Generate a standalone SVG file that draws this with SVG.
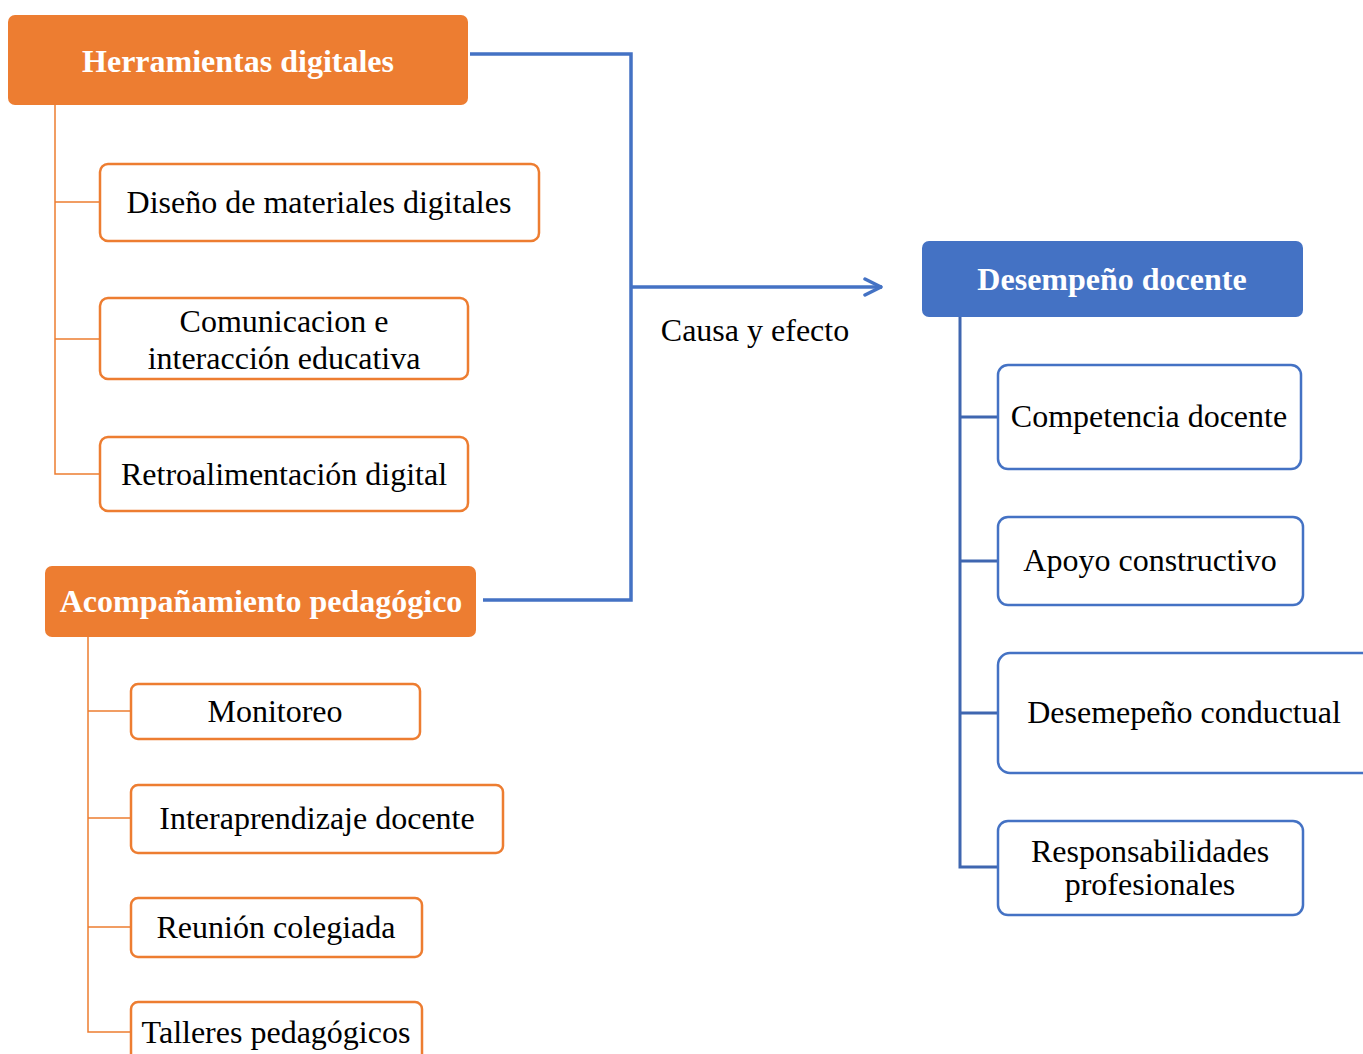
<svg xmlns="http://www.w3.org/2000/svg" width="1363" height="1054" viewBox="0 0 1363 1054">
<defs>
<style>
.hdr{fill:#ED7D31;}
.hdrb{fill:#4472C4;}
.ob{fill:#fff;stroke:#ED7D31;stroke-width:2.5;}
.bb{fill:#fff;stroke:#4472C4;stroke-width:2.5;}
.ht{font-family:"Liberation Serif",serif;font-weight:bold;font-size:32px;fill:#fff;text-anchor:middle;}
.t{font-family:"Liberation Serif",serif;font-size:32px;fill:#000;text-anchor:middle;}
.ol{fill:none;stroke:#ED7D31;stroke-width:1.5;}
.bl{fill:none;stroke:#3F66B0;stroke-width:3;}
.main{fill:none;stroke:#4472C4;stroke-width:3.5;}
</style>
<marker id="chev" viewBox="0 0 20 20" refX="19" refY="10" markerWidth="20" markerHeight="20" markerUnits="userSpaceOnUse" orient="auto">
<path d="M2,2 L18,10 L2,18" fill="none" stroke="#4472C4" stroke-width="3.5" stroke-linecap="round" stroke-linejoin="round"/>
</marker>
</defs>
<rect width="1363" height="1054" fill="#fff"/>
<g id="connectors">
<path class="ol" d="M55,105 V474 H100 M55,202 H100 M55,339 H100"/>
<path class="ol" d="M88,637 V1032 H131 M88,711 H131 M88,818 H131 M88,927 H131"/>
<path class="bl" d="M960,317 V867 H998 M960,417 H998 M960,561 H998 M960,713 H998"/>
<path class="main" d="M470,54 H631 V600 H483"/>
<path class="main" d="M631,287 H882" marker-end="url(#chev)"/>
<text class="t" x="755" y="341">Causa y efecto</text>
</g>
<g id="herramientas"><rect class="hdr" x="8" y="15" width="460" height="90" rx="7"/><text class="ht" x="238" y="72">Herramientas digitales</text></g>
<g id="diseno"><rect class="ob" x="100" y="164" width="439" height="77" rx="8"/><text class="t" x="319" y="213">Diseño de materiales digitales</text></g>
<g id="comunicacion"><rect class="ob" x="100" y="298" width="368" height="81" rx="8"/><text class="t" x="284" y="332">Comunicacion e</text><text class="t" x="284" y="369">interacción educativa</text></g>
<g id="retro"><rect class="ob" x="100" y="437" width="368" height="74" rx="8"/><text class="t" x="284" y="485">Retroalimentación digital</text></g>
<g id="acompanamiento"><rect class="hdr" x="45" y="566" width="431" height="71" rx="7"/><text class="ht" x="261" y="612">Acompañamiento pedagógico</text></g>
<g id="monitoreo"><rect class="ob" x="131" y="684" width="289" height="55" rx="7"/><text class="t" x="275" y="722">Monitoreo</text></g>
<g id="interaprendizaje"><rect class="ob" x="131" y="785" width="372" height="68" rx="7"/><text class="t" x="317" y="829">Interaprendizaje docente</text></g>
<g id="reunion"><rect class="ob" x="131" y="898" width="291" height="59" rx="7"/><text class="t" x="276" y="938">Reunión colegiada</text></g>
<g id="talleres"><rect class="ob" x="131" y="1002" width="291" height="70" rx="7"/><text class="t" x="276" y="1043">Talleres pedagógicos</text></g>
<g id="desempeno"><rect class="hdrb" x="922" y="241" width="381" height="76" rx="7"/><text class="ht" x="1112" y="290">Desempeño docente</text></g>
<g id="competencia"><rect class="bb" x="998" y="365" width="303" height="104" rx="10"/><text class="t" x="1149" y="427">Competencia docente</text></g>
<g id="apoyo"><rect class="bb" x="998" y="517" width="305" height="88" rx="10"/><text class="t" x="1150" y="571">Apoyo constructivo</text></g>
<g id="conductual"><rect class="bb" x="998" y="653" width="380" height="120" rx="12"/><text class="t" x="1184" y="723">Desemepeño conductual</text></g>
<g id="responsabilidades"><rect class="bb" x="998" y="821" width="305" height="94" rx="10"/><text class="t" x="1150" y="862">Responsabilidades</text><text class="t" x="1150" y="895">profesionales</text></g>
</svg>
